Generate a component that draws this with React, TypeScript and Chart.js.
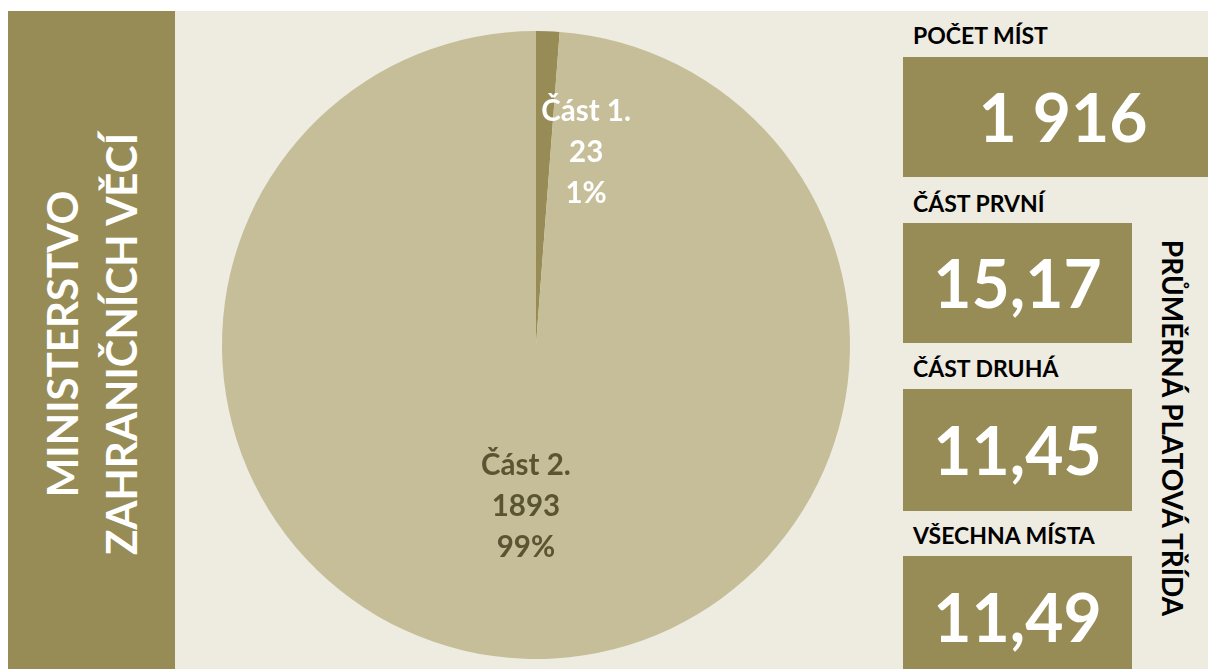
import React, { useEffect, useRef } from "react";
import { Chart, registerables } from "chart.js";

Chart.register(...registerables);

// ---- data ----
const categories = ["Část 1.", "Část 2."];
const counts = [23, 1893];
const sliceColors = ["#978C56", "#C6BE98"];
const labelColors = ["#FFFFFF", "#5A5433"];
const ministry = ["MINISTERSTVO", "ZAHRANIČNÍCH VĚCÍ"];
const totalTitle = "POČET MÍST";
const avgTitles = ["ČÁST PRVNÍ", "ČÁST DRUHÁ", "VŠECHNA MÍSTA"];
const avgValues = ["15,17", "11,45", "11,49"];
const avgSideTitle = "PRŮMĚRNÁ PLATOVÁ TŘÍDA";

// label placement (angle shift in degrees from slice middle, radius fraction)
const labelShift = [12.4, 1.4];
const labelRadius = [0.635, 0.515];

const OLIVE = "#978C56";
const BG = "#EEEBE1";
const FONT = "Lato, 'Open Sans', sans-serif";

const total = counts.reduce((a, b) => a + b, 0);
const formatThousands = (n: number) =>
  String(n).replace(/\B(?=(\d{3})+(?!\d))/g, " ");

const pieLabels = {
  id: "pieLabels",
  afterDatasetsDraw(chart: any) {
    const ctx = chart.ctx as CanvasRenderingContext2D;
    const meta = chart.getDatasetMeta(0);
    ctx.save();
    ctx.font = `bold 29.5px ${FONT}`;
    ctx.textAlign = "center";
    ctx.textBaseline = "middle";
    meta.data.forEach((arc: any, i: number) => {
      const p = arc.getProps(["x", "y", "startAngle", "endAngle", "outerRadius"], true);
      const mid = (p.startAngle + p.endAngle) / 2 + (labelShift[i] * Math.PI) / 180;
      const r = p.outerRadius * labelRadius[i];
      const cx = p.x + Math.cos(mid) * r;
      const cy = p.y + Math.sin(mid) * r;
      const pct = Math.round((counts[i] / total) * 100) + "%";
      const lines = [categories[i], String(counts[i]), pct];
      ctx.fillStyle = labelColors[i];
      lines.forEach((t, k) => ctx.fillText(t, cx, cy + (k - 1) * 41));
    });
    ctx.restore();
  },
};

function PieChart() {
  const ref = useRef<HTMLCanvasElement | null>(null);
  useEffect(() => {
    if (!ref.current) return;
    const chart = new Chart(ref.current, {
      type: "pie",
      data: {
        labels: categories,
        datasets: [
          {
            data: counts,
            backgroundColor: sliceColors,
            borderWidth: 0,
          },
        ],
      },
      options: {
        animation: false,
        responsive: false,
        devicePixelRatio: 1,
        layout: { padding: 20 },
        plugins: {
          legend: { display: false },
          tooltip: { enabled: false },
        },
      },
      plugins: [pieLabels],
    });
    return () => chart.destroy();
  }, []);
  return (
    <canvas
      ref={ref}
      width={722}
      height={668}
      style={{ position: "absolute", left: 175, top: 11, width: 722, height: 668 }}
    />
  );
}

const headingStyle: React.CSSProperties = {
  position: "absolute",
  left: 913,
  fontFamily: FONT,
  fontWeight: 700,
  fontSize: 23,
  lineHeight: "24px",
  color: "#000",
  whiteSpace: "nowrap",
};

const boxStyle: React.CSSProperties = {
  position: "absolute",
  left: 903,
  background: OLIVE,
  color: "#fff",
  fontFamily: FONT,
  fontWeight: 700,
  fontSize: 66,
  lineHeight: 1,
  display: "flex",
  alignItems: "center",
  justifyContent: "center",
  whiteSpace: "nowrap",
};

export default function App() {
  const headTops = [190.7, 355.7, 522.7];
  const boxTops = [223, 389, 556];
  const boxHeights = [120, 122, 121];
  return (
    <div
      style={{
        position: "fixed",
        left: 0,
        top: 0,
        width: 1208,
        height: 669,
        overflow: "hidden",
        background: "#fff",
      }}
    >
      <div style={{ position: "absolute", left: 8, top: 11, width: 1200, height: 658, background: BG }} />
      <div style={{ position: "absolute", left: 8, top: 11, width: 167, height: 658, background: OLIVE }} />
      <div
        style={{
          position: "absolute",
          left: 92,
          top: 344,
          transform: "translate(-50%, -50%) rotate(-90deg)",
          fontFamily: FONT,
          fontWeight: 700,
          fontSize: 42,
          lineHeight: "59px",
          color: "#fff",
          textAlign: "center",
          whiteSpace: "nowrap",
        }}
      >
        {ministry.map((t) => (
          <div key={t}>{t}</div>
        ))}
      </div>
      <PieChart />
      <div style={{ ...headingStyle, top: 22.7 }}>{totalTitle}</div>
      <div style={{ ...boxStyle, top: 57, width: 320, height: 120 }}>{formatThousands(total)}</div>
      {avgTitles.map((t, i) => (
        <React.Fragment key={t}>
          <div style={{ ...headingStyle, top: headTops[i] }}>{t}</div>
          <div style={{ ...boxStyle, top: boxTops[i], width: 229, height: boxHeights[i] }}>{avgValues[i]}</div>
        </React.Fragment>
      ))}
      <div
        style={{
          position: "absolute",
          left: 1173,
          top: 428,
          transform: "translate(-50%, -50%) rotate(90deg)",
          fontFamily: FONT,
          fontWeight: 700,
          fontSize: 28,
          lineHeight: 1,
          color: "#000",
          whiteSpace: "nowrap",
        }}
      >
        {avgSideTitle}
      </div>
    </div>
  );
}
